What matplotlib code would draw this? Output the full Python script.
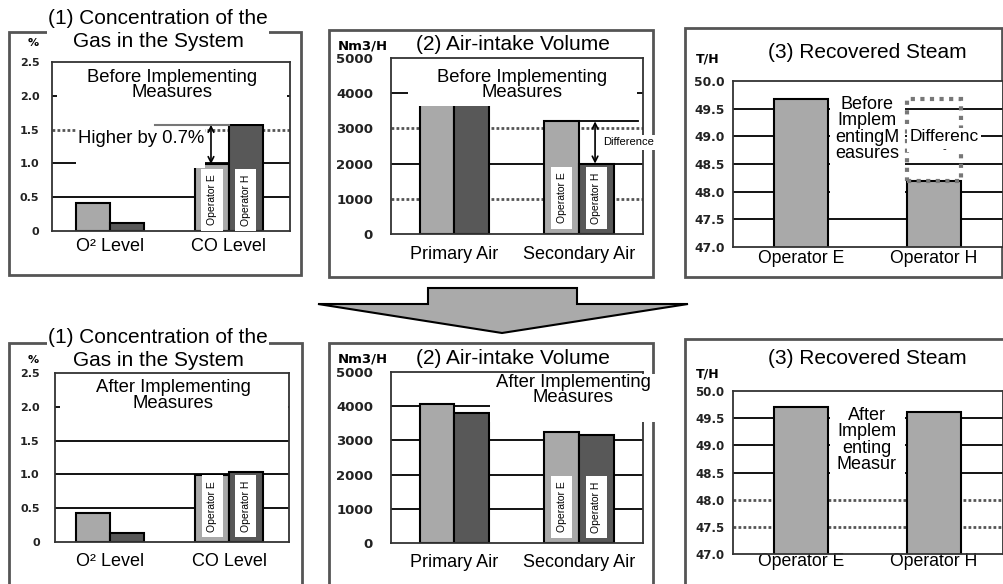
import matplotlib
matplotlib.use('Agg')
import matplotlib.pyplot as plt
from matplotlib.patches import Rectangle, Polygon
import numpy as np

plt.rcParams['font.family'] = ['Liberation Sans', 'DejaVu Sans']

W, H = 1004, 584
LIGHT = '#a9a9a9'
DARK = '#585858'

# ---- data ----
gas_cats = ['O² Level', 'CO Level']
gas_before_e = [0.42, 0.99]
gas_before_h = [0.12, 1.57]
gas_after_e = [0.43, 0.99]
gas_after_h = [0.13, 1.04]
gas_ticks = [0, 0.5, 1.0, 1.5, 2.0, 2.5]
gas_ticklabels = ['0', '0.5', '1.0', '1.5', '2.0', '2.5']

air_cats = ['Primary Air', 'Secondary Air']
air_before_e = [4050, 3200]
air_before_h = [4000, 2000]
air_after_e = [4050, 3250]
air_after_h = [3800, 3150]
air_ticks = [0, 1000, 2000, 3000, 4000, 5000]
air_ticklabels = ['0', '1000', '2000', '3000', '4000', '5000']

steam_cats = ['Operator E', 'Operator H']
steam_before = [49.67, 48.2]
steam_after = [49.7, 49.62]
steam_ticks = [47.0, 47.5, 48.0, 48.5, 49.0, 49.5, 50.0]
steam_ticklabels = ['47.0', '47.5', '48.0', '48.5', '49.0', '49.5', '50.0']

fig = plt.figure(figsize=(W / 100, H / 100), dpi=100)


def rect(x0, y0, x1, y1):
    return [x0 / W, 1 - y1 / H, (x1 - x0) / W, (y1 - y0) / H]


def frame(x0, y0, x1, y1):
    fig.add_artist(Rectangle((x0 / W, 1 - y1 / H), (x1 - x0) / W, (y1 - y0) / H,
                             transform=fig.transFigure, fill=False, ec='#555555',
                             lw=2, zorder=-1))


def ftext(x, y, s, **kw):
    fig.text(x / W, 1 - y / H, s, **kw)


def setup(ax, ticks, labels, cats, xlim, tick_fs, cat_fs, cat_pad, tick_pad, dotted=()):
    ax.set_xlim(*xlim)
    ax.set_ylim(ticks[0], ticks[-1])
    ax.set_yticks(ticks)
    ax.set_yticklabels(labels, fontsize=tick_fs, family='DejaVu Sans', fontweight='bold',
                       color='#222222')
    ax.set_xticks([0, 1])
    ax.set_xticklabels(cats, fontsize=cat_fs)
    ax.tick_params(axis='y', length=0, pad=tick_pad)
    ax.tick_params(axis='x', length=0, pad=cat_pad)
    for t in ticks[1:-1]:
        if t in dotted:
            ax.axhline(t, color='#555555', lw=2, ls=(0, (1, 0.8)), zorder=1)
        else:
            ax.axhline(t, color='black', lw=1.3, zorder=1)
    for s in ax.spines.values():
        s.set_color('#333333')
        s.set_linewidth(1.3)


def pair_bars(ax, e, h, w):
    x = np.arange(len(e))
    ax.bar(x - w / 2, e, w, color=LIGHT, edgecolor='black', lw=1.5, zorder=2)
    ax.bar(x + w / 2, h, w, color=DARK, edgecolor='black', lw=1.5, zorder=2)


def white_box(ax, x0, x1, y0, y1, z=3):
    ax.add_patch(Rectangle((x0, y0), x1 - x0, y1 - y0, fc='white', ec='none',
                           zorder=z, clip_on=False))


def op_labels(ax, w, y, fs=7.5):
    for dx, s in [(-w / 2, 'Operator E'), (w / 2, 'Operator H')]:
        ax.text(1 + dx, y, s, rotation=90, ha='center', va='center', fontsize=fs,
                zorder=5, bbox=dict(fc='white', ec='none', pad=4))


note_kw = dict(ha='center', va='center', fontsize=13.3, linespacing=0.9, zorder=5)

# ---- arrow between rows ----
arrow_px = [(428, 288), (577, 288), (577, 304), (688, 304), (502, 333), (318, 304), (428, 304)]
fig.add_artist(Polygon([(x / W, 1 - y / H) for x, y in arrow_px], closed=True,
                       transform=fig.transFigure, fc='#aaaaaa', ec='black', lw=1.5))

# ---- frames ----
frame(9, 32, 301, 275)
frame(329, 30, 653, 277)
frame(685, 28, 1002, 277)
frame(9, 343, 302, 600)
frame(329, 343, 653, 600)
frame(685, 339, 1010, 600)

# ---- (1) gas, before ----
gw = 0.285
ax = fig.add_axes(rect(52, 62, 290, 231))
setup(ax, gas_ticks, gas_ticklabels, gas_cats, (-0.487, 1.513), 8, 13, 5, 9, dotted=(1.5,))
pair_bars(ax, gas_before_e, gas_before_h, gw)
white_box(ax, -0.445, 1.487, 1.58, 2.47)
ax.text(0.52, 2.16, 'Before Implementing\nMeasures', **note_kw)
white_box(ax, -0.286, 0.80, 0.93, 1.52)
ax.text(-0.27, 1.37, 'Higher by 0.7%', ha='left', va='center', fontsize=13.3, zorder=5)
ax.plot([0.378, 1.0], [gas_before_h[1]] * 2, color='#777777', lw=1.5, zorder=4)
ax.annotate('', xy=(0.849, gas_before_e[1]), xytext=(0.849, gas_before_h[1]),
            arrowprops=dict(arrowstyle='<->', color='black', lw=1.2, shrinkA=0, shrinkB=0),
            zorder=5)
op_labels(ax, gw, 0.46)

# ---- (1) gas, after ----
ax = fig.add_axes(rect(55, 373, 289, 542))
setup(ax, gas_ticks, gas_ticklabels, gas_cats, (-0.462, 1.504), 8, 13, 8, 11)
pair_bars(ax, gas_after_e, gas_after_h, gw)
white_box(ax, -0.42, 1.496, 1.92, 2.47)
ax.text(0.53, 2.17, 'After Implementing\nMeasures', **note_kw)
op_labels(ax, gw, 0.53)

# ---- (2) air, before ----
aw = 0.28
ax = fig.add_axes(rect(391, 58, 643, 234))
setup(ax, air_ticks, air_ticklabels, air_cats, (-0.51, 1.514), 9.5, 13, 9, 13,
      dotted=(1000, 3000))
pair_bars(ax, air_before_e, air_before_h, aw)
white_box(ax, -0.373, 1.466, 3640, 4940)
ax.text(0.542, 4233, 'Before Implementing\nMeasures', **note_kw)
ax.plot([1.0, 1.474], [air_before_e[1]] * 2, color='black', lw=1.3, zorder=4)
ax.annotate('', xy=(1.129, air_before_h[1]), xytext=(1.129, air_before_e[1]),
            arrowprops=dict(arrowstyle='<->', color='black', lw=1.2, shrinkA=0, shrinkB=0),
            zorder=5)
ax.text(1.19, 2600, 'Difference', ha='left', va='center', fontsize=8, zorder=5,
        clip_on=False, bbox=dict(fc='white', ec='none', pad=2))
op_labels(ax, aw, 1023)

# ---- (2) air, after ----
ax = fig.add_axes(rect(391, 372, 643, 543))
setup(ax, air_ticks, air_ticklabels, air_cats, (-0.51, 1.514), 9.5, 13, 8, 13)
pair_bars(ax, air_after_e, air_after_h, aw)
white_box(ax, 0.285, 1.627, 3540, 4950)
ax.text(0.952, 4474, 'After Implementing\nMeasures', **note_kw)
op_labels(ax, aw, 1053)

# ---- (3) steam, before ----
sw = 0.41
ax = fig.add_axes(rect(733, 81, 1003, 247))
setup(ax, steam_ticks, steam_ticklabels, steam_cats, (-0.511, 1.519), 8.8, 12.7, 2, 6)
ax.bar([0, 1], steam_before, sw, bottom=0, color=LIGHT, edgecolor='black', lw=1.5, zorder=2)
white_box(ax, 0.22, 0.785, 47.76, 49.98)
ax.text(0.496, 49.13, 'Before\nImplem\nentingM\neasures', ha='center', va='center',
        fontsize=13, linespacing=0.95, zorder=5)
ax.add_patch(Rectangle((1 - sw / 2, steam_before[1]), sw, steam_before[0] - steam_before[1],
                       fill=False, ec='#777777', lw=3, ls=(0, (1, 1.3)), zorder=3.5))
white_box(ax, 0.80, 1.35, 48.72, 49.15, z=4)
ax.text(1.075, 48.99, 'Differenc', ha='center', va='center', fontsize=12.5, zorder=5)
ax.text(1.075, 48.76, '-', ha='center', va='center', fontsize=8, zorder=5)

# ---- (3) steam, after ----
ax = fig.add_axes(rect(733, 391, 1003, 554))
setup(ax, steam_ticks, steam_ticklabels, steam_cats, (-0.511, 1.519), 8.5, 12.7, -1, 6,
      dotted=(47.5, 48.0))
ax.bar([0, 1], steam_after, sw, bottom=0, color=LIGHT, edgecolor='black', lw=1.5, zorder=2)
white_box(ax, 0.22, 0.785, 48.18, 49.93)
ax.text(0.496, 49.1, 'After\nImplem\nenting\nMeasur', ha='center', va='center',
        fontsize=13, linespacing=0.95, zorder=5)

# ---- titles and units ----
title_kw = dict(ha='center', va='center', fontsize=15, linespacing=1.25,
                bbox=dict(fc='white', ec='none', pad=1))
ftext(158, 30, '(1) Concentration of the\nGas in the System', **title_kw)
ftext(158, 349, '(1) Concentration of the\nGas in the System', **title_kw)
ftext(513, 45, '(2) Air-intake Volume', **title_kw)
ftext(513, 358, '(2) Air-intake Volume', **title_kw)
ftext(867, 52, '(3) Recovered Steam', **title_kw)
ftext(867, 358, '(3) Recovered Steam', **title_kw)

unit_kw = dict(ha='center', va='center', family='DejaVu Sans', fontweight='bold')
ftext(33, 43, '%', fontsize=8, **unit_kw)
ftext(33, 360, '%', fontsize=8, **unit_kw)
ftext(363, 46, 'Nm3/H', fontsize=9.5, **unit_kw)
ftext(363, 359, 'Nm3/H', fontsize=9.5, **unit_kw)
ftext(708, 59, 'T/H', fontsize=9, **unit_kw)
ftext(708, 374, 'T/H', fontsize=9, **unit_kw)

fig.savefig('out.png', dpi=100)
